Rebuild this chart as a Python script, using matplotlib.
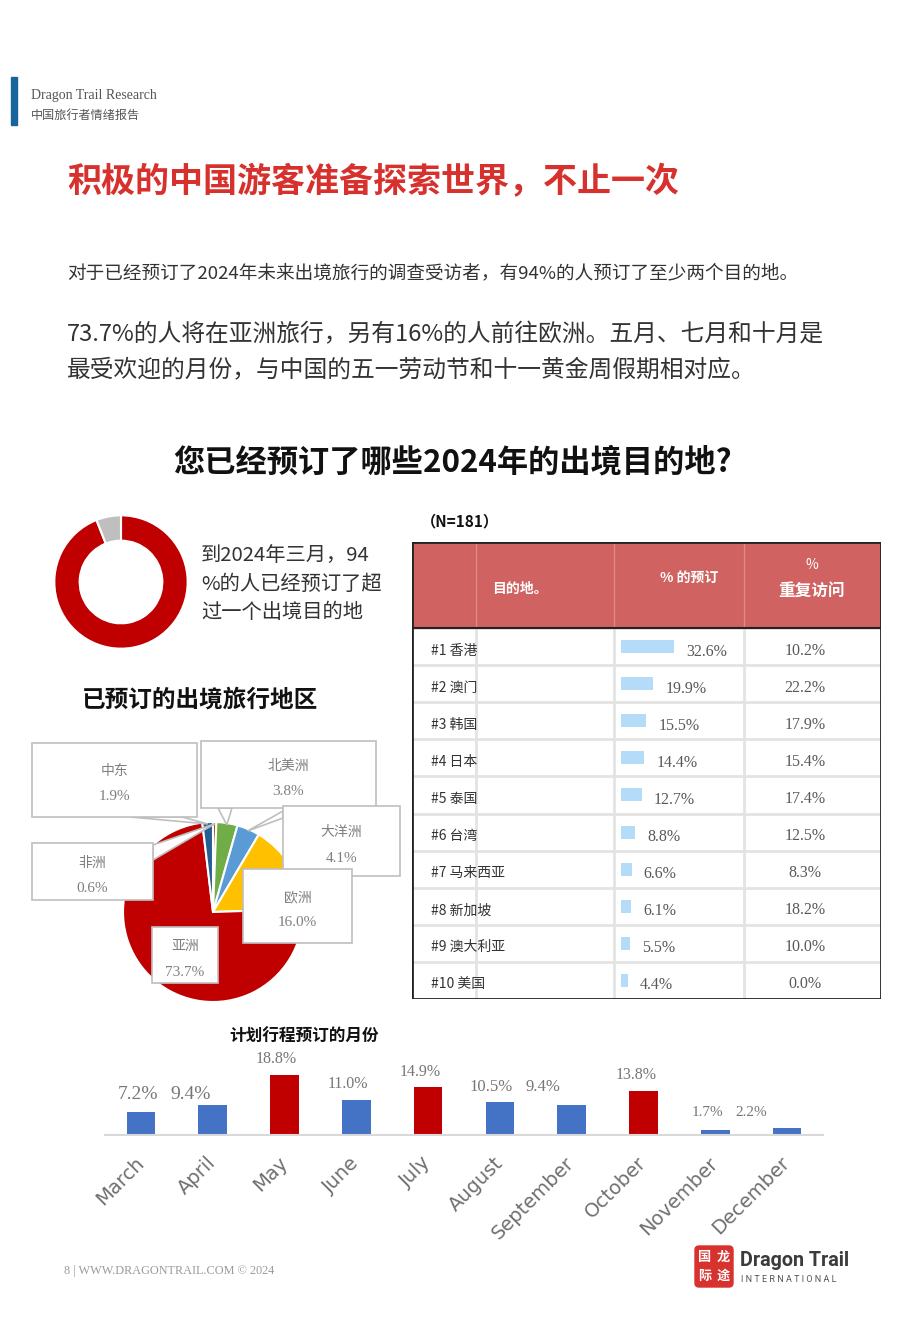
import matplotlib
matplotlib.use("Agg")
import matplotlib.pyplot as plt
from matplotlib.patches import Rectangle, Polygon, FancyBboxPatch
import numpy as np

plt.rcParams["font.family"] = ["Noto Sans CJK SC", "DejaVu Sans"]
SERIF = ["Liberation Serif", "Noto Sans CJK SC"]

W, H = 920, 1329

# ---------------- data ----------------
donut_values = [94, 6]  # booked more than one destination / others

region_names = ["非洲", "北美洲", "大洋洲", "欧洲", "亚洲", "中东"]
region_share = [0.6, 3.8, 4.1, 16.0, 73.7, 1.9]
region_colors = ["#9e480e", "#70ad47", "#5b9bd5", "#ffc000", "#c00000", "#255e91"]

dest_names = ["香港", "澳门", "韩国", "日本", "泰国", "台湾", "马来西亚", "新加坡", "澳大利亚", "美国"]
dest_booked = [32.6, 19.9, 15.5, 14.4, 12.7, 8.8, 6.6, 6.1, 5.5, 4.4]
dest_repeat = [10.2, 22.2, 17.9, 15.4, 17.4, 12.5, 8.3, 18.2, 10.0, 0.0]

months = ["March", "April", "May", "June", "July", "August",
          "September", "October", "November", "December"]
month_share = [7.2, 9.4, 18.8, 11.0, 14.9, 10.5, 9.4, 13.8, 1.7, 2.2]
peak_months = ["May", "July", "October"]


def rect(x, y, w, h):
    # pixel box (top-left origin) -> figure fraction
    return [x / W, 1 - (y + h) / H, w / W, h / H]


fig = plt.figure(figsize=(W / 100, H / 100), dpi=100)
fig.patch.set_facecolor("white")

page = fig.add_axes([0, 0, 1, 1], zorder=10)
page.set_xlim(0, W)
page.set_ylim(H, 0)
page.axis("off")
page.patch.set_alpha(0)

# ---------------- header ----------------
page.add_patch(Rectangle((11, 77), 6, 48, color="#17659a"))
page.text(31, 95, "Dragon Trail Research", family=SERIF, fontsize=10, color="#555555", va="center")
page.text(31, 115, "中国旅行者情绪报告", fontsize=8.7, color="#555555", va="center")

page.text(67, 182, "积极的中国游客准备探索世界，不止一次", fontsize=24.5, fontweight="bold",
          color="#d7312e", va="center")
page.text(67, 273, "对于已经预订了2024年未来出境旅行的调查受访者，有94%的人预订了至少两个目的地。",
          fontsize=13.4, color="#333333", va="center")
page.text(67, 335, "73.7%的人将在亚洲旅行，另有16%的人前往欧洲。五月、七月和十月是",
          fontsize=17.1, color="#333333", va="center")
page.text(67, 370, "最受欢迎的月份，与中国的五一劳动节和十一黄金周假期相对应。",
          fontsize=17.1, color="#333333", va="center")

page.text(453, 462, "您已经预订了哪些2024年的出境目的地?", fontsize=22.5, fontweight="bold",
          color="#111111", va="center", ha="center")

# ---------------- donut ----------------
ax_d = fig.add_axes(rect(53, 514, 136, 136))
ax_d.pie(donut_values, colors=["#c00000", "#bfbfbf"], startangle=90, counterclock=False,
         radius=1, wedgeprops=dict(width=0.38, edgecolor="white", linewidth=1.5))
ax_d.set_xlim(-1.02, 1.02)
ax_d.set_ylim(-1.02, 1.02)
ax_d.axis("off")

for i, line in enumerate(["到2024年三月，94", "%的人已经预订了超", "过一个出境目的地"]):
    page.text(201, 555 + 29 * i, line, fontsize=14.6, color="#333333", va="center")

page.text(82, 700, "已预订的出境旅行地区", fontsize=17, fontweight="bold", color="#111111", va="center")

# ---------------- region pie ----------------
ax_p = fig.add_axes(rect(123, 822, 180, 180))
wedges, _ = ax_p.pie(region_share, colors=region_colors, startangle=90, counterclock=False,
                     radius=1, wedgeprops=dict(edgecolor="white", linewidth=1.5))
ax_p.set_xlim(-1, 1)
ax_p.set_ylim(-1, 1)
ax_p.axis("off")


def wedge_point(idx, r=0.98):
    w = wedges[idx]
    th = np.deg2rad((w.theta1 + w.theta2) / 2)
    disp = ax_p.transData.transform((r * np.cos(th), r * np.sin(th)))
    return page.transData.inverted().transform(disp)


# label boxes: x, y, w, h, pointer base (or None)
label_boxes = {
    "中东": (32, 743, 165, 74, [(130, 817), (182, 817)]),
    "北美洲": (201, 741, 175, 67, [(218, 808), (232, 808)]),
    "大洋洲": (283, 806, 117, 70, [(283, 811), (283, 818)]),
    "非洲": (32, 843, 121, 57, [(153, 845), (153, 860)]),
    "欧洲": (243, 869, 109, 74, None),
    "亚洲": (152, 927, 66, 56, None),
}
for idx, name in enumerate(region_names):
    x, y, w, h, base = label_boxes[name]
    if base is not None:
        tip = wedge_point(idx)
        page.add_patch(Polygon([base[0], tuple(tip), base[1]], closed=True, facecolor="white",
                               edgecolor="#bfbfbf", linewidth=1.2, zorder=2))
    page.add_patch(Rectangle((x, y), w, h, facecolor="white", edgecolor="#bfbfbf",
                             linewidth=1.2, zorder=3))
    cx, cy = x + w / 2, y + h / 2
    page.text(cx, cy - 9, name, fontsize=10, color="#7f7f7f", ha="center", va="center", zorder=4)
    page.text(cx, cy + 17, f"{region_share[idx]:.1f}%", family=SERIF, fontsize=11,
              color="#7f7f7f", ha="center", va="center", zorder=4)

# ---------------- destination table ----------------
page.text(421, 521, "（N=181）", fontsize=11, fontweight="bold", color="#111111", va="center")

TW, TH, HEAD = 469, 457, 86
ax_t = fig.add_axes(rect(412, 542, TW, TH))
ax_t.set_xlim(0, TW)
ax_t.set_ylim(TH, 0)
ax_t.axis("off")

row_h = (TH - HEAD) / len(dest_names)
ax_t.add_patch(Rectangle((0, 0), TW, HEAD, color="#d06262", zorder=1))
for cx_ in (64, 202, 332):
    ax_t.plot([cx_, cx_], [0, HEAD], color="#dc8a8a", lw=1, zorder=2)
    ax_t.plot([cx_, cx_], [HEAD, TH], color="#e3e3e3", lw=2, zorder=1)
for i in range(1, len(dest_names)):
    yy = HEAD + i * row_h
    ax_t.plot([0, TW], [yy, yy], color="#e3e3e3", lw=2, zorder=1)
ax_t.plot([0, TW], [HEAD, HEAD], color="#222222", lw=1.5, zorder=3)
ax_t.add_patch(Rectangle((0, 0), TW, TH, fill=False, edgecolor="#222222", lw=2, zorder=4))

ax_t.text(80, 47, "目的地。", fontsize=10, fontweight="bold", color="white", va="center", zorder=5)
ax_t.text(277, 36, "% 的预订", fontsize=10, fontweight="bold", color="white", ha="center",
          va="center", zorder=5)
ax_t.text(400, 23, "%", fontsize=10, color="white", ha="center", va="center", zorder=5)
ax_t.text(400, 49, "重复访问", fontsize=12, fontweight="bold", color="white", ha="center",
          va="center", zorder=5)

bar_left, px_per_pct = 209, 1.63
centers = [HEAD + (i + 0.5) * row_h for i in range(len(dest_names))]
ax_t.barh(centers, [v * px_per_pct for v in dest_booked], left=bar_left, height=13,
          color="#b4dcf8", zorder=2)
for i, yc in enumerate(centers):
    ax_t.text(19, yc + 4, f"#{i + 1} {dest_names[i]}", fontsize=10, color="#333333",
              va="center", zorder=5)
    ax_t.text(bar_left + dest_booked[i] * px_per_pct + 12, yc + 5, f"{dest_booked[i]:.1f}%",
              family=SERIF, fontsize=11.5, color="#595959", va="center", zorder=5)
    ax_t.text(393, yc + 4, f"{dest_repeat[i]:.1f}%", family=SERIF, fontsize=11.5,
              color="#595959", ha="center", va="center", zorder=5)

# ---------------- monthly bars ----------------
page.text(229, 1037, "计划行程预订的月份", fontsize=12, fontweight="bold", color="#111111", va="center")

ax_m = fig.add_axes(rect(105, 1035, 718, 100))
x = np.arange(len(months))
colors = ["#c00000" if m in peak_months else "#4472c4" for m in months]
ax_m.bar(x, month_share, width=0.4, color=colors)
ax_m.set_xlim(-0.5, len(months) - 0.5)
ax_m.set_ylim(0, 100 / 3.19)
for s in ("top", "right", "left"):
    ax_m.spines[s].set_visible(False)
ax_m.spines["bottom"].set_color("#d9d9d9")
ax_m.spines["bottom"].set_linewidth(1.5)
ax_m.set_yticks([])
ax_m.patch.set_alpha(0)
ax_m.set_xticks(x)
ax_m.set_xticklabels(months, rotation=45, ha="right", va="center", rotation_mode="anchor",
                     fontsize=14, color="#707070", family=["DejaVu Sans"])
ax_m.tick_params(axis="x", length=0, pad=18)

label_dx = [-3, -22, -8, -8, -8, -9, -29, -7, -8, -36]
label_dy = [18, 11, 16, 16, 15, 15, 18, 16, 17, 15]
label_fs = [14, 14, 11.5, 11.5, 11.5, 12, 12, 11.5, 11, 11]
for i, v in enumerate(month_share):
    ax_m.annotate(f"{v:.1f}%", (i, v), xytext=(label_dx[i] * 0.72, label_dy[i] * 0.72),
                  textcoords="offset points", ha="center", va="center", family=SERIF,
                  fontsize=label_fs[i], color="#767676", annotation_clip=False)

# ---------------- footer ----------------
page.text(64, 1271, "8 | WWW.DRAGONTRAIL.COM © 2024", family=SERIF, fontsize=8.8, color="#9a9a9a",
          va="center")
page.add_patch(FancyBboxPatch((695, 1246), 38, 41, boxstyle="round,pad=0,rounding_size=4",
                              color="#d8322f"))
for ch, (lx, ly) in zip("国龙际途", [(705, 1257), (723, 1257), (705, 1276), (723, 1276)]):
    page.text(lx, ly, ch, fontsize=9.5, fontweight="bold", color="white", ha="center", va="center")
page.text(740, 1261, "Dragon Trail", fontsize=14.2, fontweight="bold", color="#3b3b3b",
          family=["Roboto", "DejaVu Sans"], va="center")
page.text(741, 1279, " ".join("INTERNATIONAL"), fontsize=6.5, color="#555555",
          family=["Roboto", "DejaVu Sans"], va="center")

fig.savefig("out.png", dpi=100)
